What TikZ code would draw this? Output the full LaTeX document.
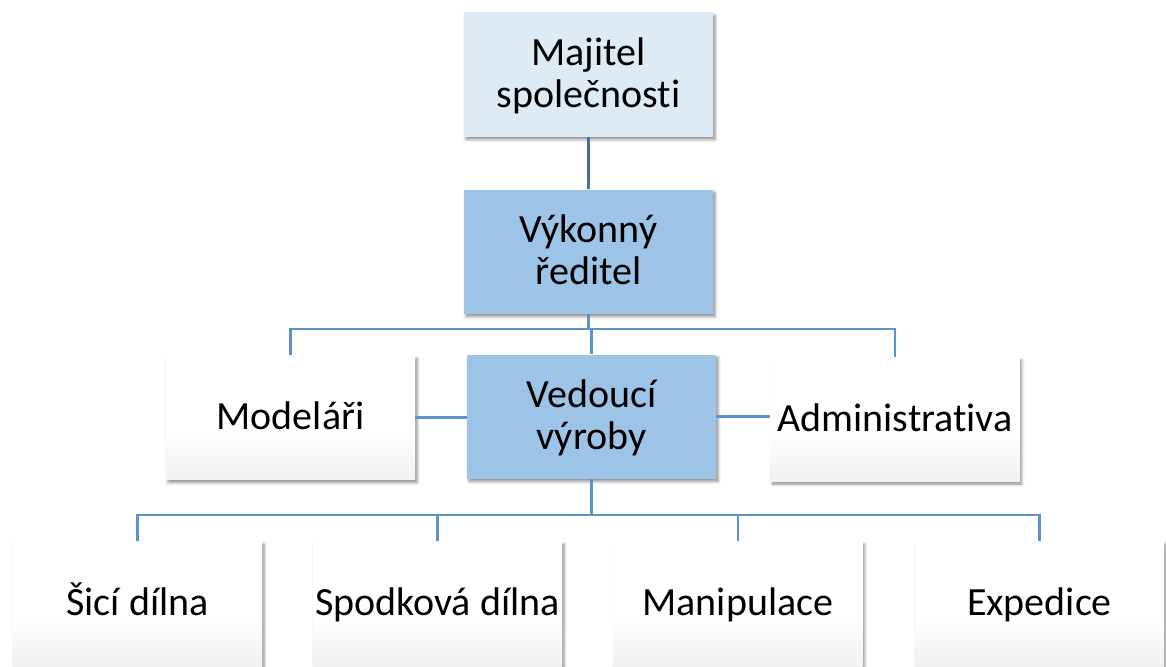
\documentclass[tikz,border=0pt]{standalone}
\usepackage{fontspec}
\setmainfont{Carlito}[Ligatures={NoCommon}]
\usetikzlibrary{shadows.blur}
\definecolor{lightbox}{HTML}{DDEBF7}
\definecolor{bluebox}{HTML}{9DC3E6}
\definecolor{linkc}{HTML}{5B93CF}
\definecolor{linkdark}{HTML}{41719C}
\pgfdeclareverticalshading{whitegrad}{100bp}{color(0bp)=(black!12); color(45bp)=(white); color(100bp)=(white)}
\newcommand{\ls}{\rule[-9pt]{0pt}{42pt}}
\tikzset{
  orgbox/.style={rectangle, minimum width=249pt, minimum height=124pt, inner sep=2pt,
    align=center, font=\fontsize{40}{42}\selectfont,
    blur shadow={shadow xshift=2pt, shadow yshift=-3pt, shadow blur radius=3pt, shadow opacity=45}},
  lightorg/.style={orgbox, fill=lightbox},
  blueorg/.style={orgbox, fill=bluebox},
  whiteorg/.style={orgbox, shading=whitegrad},
  link/.style={draw=linkc, line width=2.4pt},
  darklink/.style={draw=linkdark, line width=2.4pt}
}
\begin{document}
\begin{tikzpicture}[x=1pt,y=-1pt]
\useasboundingbox (0,0) rectangle (1166,666);
\coordinate (j1) at (588.5,329);
\coordinate (j2) at (591.5,515);
\coordinate (ownpos) at (588.5,74.5);
\coordinate (ceopos) at (588.5,251.5);
\coordinate (modpos) at (290.5,417.5);
\coordinate (vedpos) at (591.5,416.5);
\coordinate (admpos) at (895,419);
\node[lightorg] (own) at (ownpos) {\ls Majitel\\\ls společnosti};
\node[blueorg] (ceo) at (ceopos) {\ls Výkonný\\\ls ředitel};
\node[whiteorg] (mod) at (modpos) {\ls Modeláři};
\node[blueorg] (ved) at (vedpos) {\ls Vedoucí\\\ls výroby};
\node[whiteorg] (adm) at (admpos) {\ls Administrativa};
\node[whiteorg, minimum height=125pt] (b1) at (137.5,603.5) {\ls Šicí dílna};
\node[whiteorg, minimum height=125pt] (b2) at (437.5,603.5) {\ls Spodková dílna};
\node[whiteorg, minimum height=125pt] (b3) at (738,603.5) {\ls Manipulace};
\node[whiteorg, minimum height=125pt] (b4) at (1039.5,603.5) {\ls Expedice};
% connectors
\draw[darklink] (own.south) -- (ceo.north);
\draw[link] (ceo.south) -- (j1);
\draw[link] (j1) -| (mod.north);
\draw[link] (j1) -| (adm.north);
\draw[link] (j1 -| ved.north) -- (ved.north);
\draw[link] (mod.east) -- (mod.east -| ved.west);
\draw[link] (ved.east) -- (ved.east -| adm.west);
\draw[link] (ved.south) -- (j2);
\draw[link] (j2) -| (b1.north);
\draw[link] (j2) -| (b2.north);
\draw[link] (j2) -| (b3.north);
\draw[link] (j2) -| (b4.north);
\end{tikzpicture}
\end{document}
